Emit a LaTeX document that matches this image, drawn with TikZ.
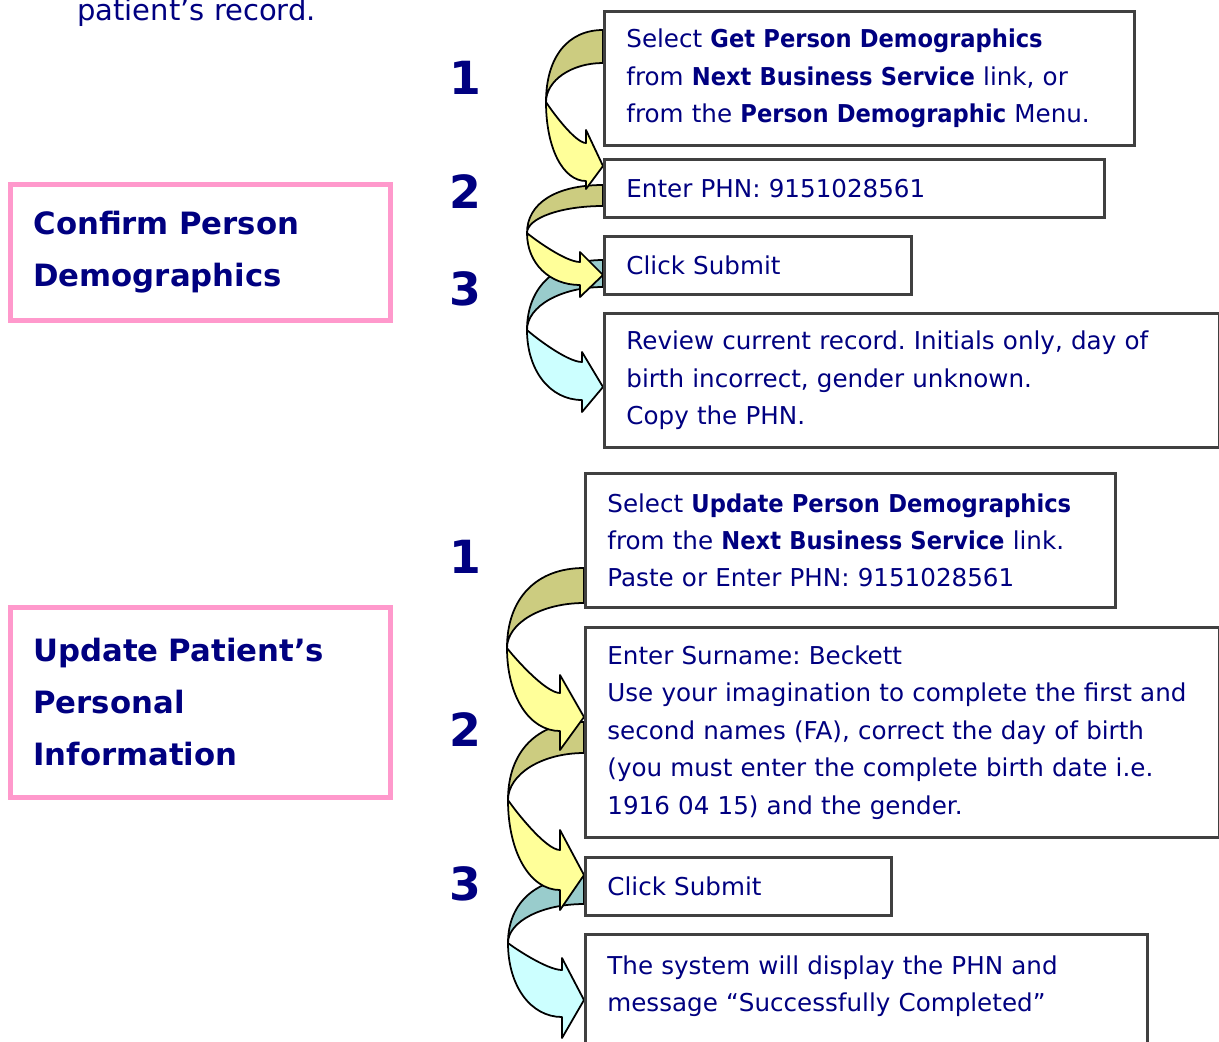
\documentclass[tikz,border=0pt]{standalone}
\usepackage{fontspec}
\setmainfont{DejaVu Sans}
\newfontfamily\boxbold{DejaVu Sans Bold}[FakeStretch=0.92]
\newcommand{\keyterm}[1]{{\boxbold #1}}
\frenchspacing
\definecolor{navy}{RGB}{0,0,128}
\definecolor{boxgray}{RGB}{64,64,64}
\definecolor{pinkline}{RGB}{255,153,204}
\definecolor{backolive}{RGB}{204,204,128}
\definecolor{frontyellow}{RGB}{255,255,153}
\definecolor{backteal}{RGB}{153,204,204}
\definecolor{frontcyan}{RGB}{204,255,255}
\tikzset{
  stepbox/.style={draw=boxgray,line width=1.6pt,fill=white,anchor=north west,align=left,
    inner xsep=0.44cm,inner ysep=0pt,text=navy,font=\fontsize{14}{21.3}\selectfont},
  titlebox/.style={draw=pinkline,line width=2.8pt,anchor=north west,align=left,
    inner xsep=0.46cm,inner ysep=0pt,text=navy,font=\bfseries\fontsize{17.5}{29.6}\selectfont},
  stepno/.style={text=navy,font=\bfseries\fontsize{26}{26}\selectfont},
  arrowline/.style={draw=black,line width=1pt,line join=round}
}
\begin{document}
\begin{tikzpicture}[x=0.02cm,y=-0.02cm]
\useasboundingbox (0,0) rectangle (1219,1041);
\node (rec) at (77,20) [anchor=base west,inner sep=0pt,text=navy,font=\fontsize{16.5}{20}\selectfont] {patient’s record.};

\node (p1) at (8,182) [titlebox,text width=6.68cm,minimum height=2.72cm] {Confirm Person\\Demographics};
\node (p2) at (8,605) [titlebox,text width=6.68cm,minimum height=3.8cm] {Update Patient’s\\Personal\\Information};

\node (n1) at (465,78) [stepno] {1};
\node (n2) at (465,192) [stepno] {2};
\node (n3) at (465,289) [stepno] {3};
\node (n4) at (465,557) [stepno] {1};
\node (n5) at (465,730) [stepno] {2};
\node (n6) at (465,884) [stepno] {3};

\foreach \R/\T/\t/\L/\M/\H/\su/\sl/\bu/\bl/\tp/\bk/\fr in {
  603/260/27/527/330/582/362/400/352/412/387/backteal/frontcyan,
  603/185/21/527/233/580/262/285/252/297/275/backolive/frontyellow,
  603/30/33/546/102/586/143/181/130/189/166/backolive/frontyellow,
  584/877/27/508/943/562/970/1017/958/1038/1000/backteal/frontcyan,
  584/722/31/508/800/560/850/890/830/910/875/backolive/frontyellow,
  584/568/35/507/648/560/693/731/675/750/717/backolive/frontyellow} {
  \draw [arrowline,fill=\bk] (\R,\T) .. controls ({\R-0.62*(\R-\L)},\T) and (\L,{\M-0.62*(\M-\T)}) .. (\L,\M)
    .. controls (\L,{\M-0.552*(\M-\T-\t)}) and ({\R-0.552*(\R-\L)},{\T+\t}) .. (\R,{\T+\t}) -- cycle;
  \draw [arrowline,fill=\fr] (\L,\M) .. controls (\L,{\M+0.58*(\sl-\M)}) and ({\H-0.58*(\H-\L)},\sl) .. (\H,\sl)
    -- (\H,\bl) -- (\R,\tp) -- (\H,\bu) -- (\H,\su)
    .. controls ({\H-0.28*(\H-\L)},\su) and ({\L+0.1*(\H-\L)},{\M+0.16*(\su-\M)}) .. cycle;
}

\node (a1) at (603,10) [stepbox,text width=9.72cm,minimum height=2.68cm] {Select \keyterm{Get Person Demographics}\\from \keyterm{Next Business Service} link, or\\from the \keyterm{Person Demographic} Menu.};
\node (a2) at (603,158) [stepbox,text width=9.12cm,minimum height=1.16cm] {Enter PHN: 9151028561};
\node (a3) at (603,235) [stepbox,text width=5.26cm,minimum height=1.16cm] {Click Submit};
\node (a4) at (603,312) [stepbox,text width=11.42cm,minimum height=2.68cm] {Review current record. Initials only, day of\\birth incorrect, gender unknown.\\Copy the PHN.};

\node (b1) at (584,472) [stepbox,text width=9.72cm,minimum height=2.68cm] {\mbox{Select \keyterm{Update Person Demographics}}\\from the \keyterm{Next Business Service} link.\\Paste or Enter PHN: 9151028561};
\node (b2) at (584,626) [stepbox,text width=11.8cm,minimum height=4.2cm] {Enter Surname: Beckett\\Use your imagination to complete the first and\\second names (FA), correct the day of birth\\(you must enter the complete birth date i.e.\\1916 04 15) and the gender.};
\node (b3) at (584,856) [stepbox,text width=5.24cm,minimum height=1.16cm] {Click Submit};
\node (b4) at (584,933) [stepbox,text width=10.36cm,minimum height=2.72cm] {The system will display the PHN and\\message “Successfully Completed”\\\mbox{}};
\end{tikzpicture}
\end{document}
